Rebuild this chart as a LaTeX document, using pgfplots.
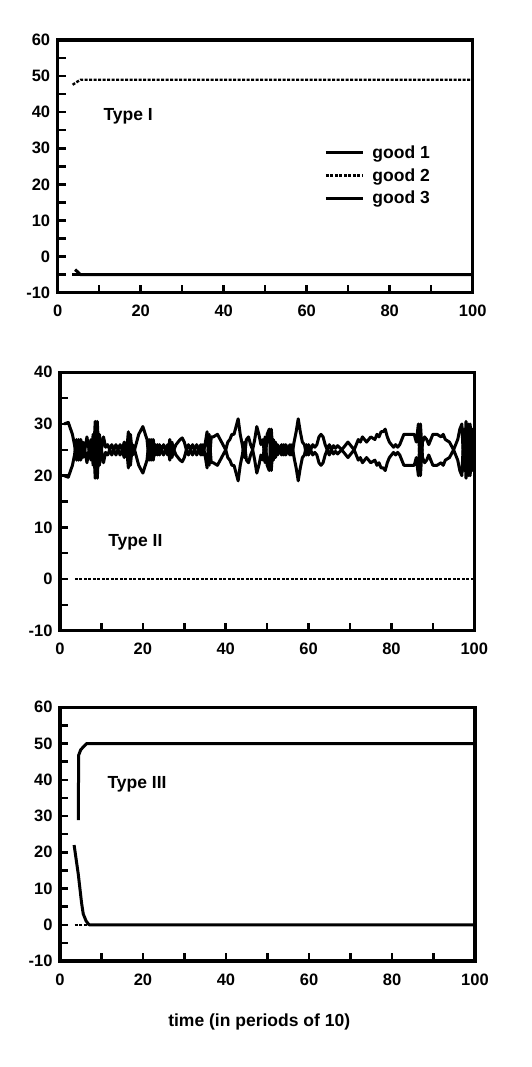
\documentclass[border=0pt]{standalone}
\usepackage{fontspec}
\setmainfont{Liberation Sans}
\usepackage{pgfplots}
\usepackage{pgfplotstable}
\pgfplotsset{compat=1.18}

\pgfplotstableread{
x g1 g3
1 30 20
2 30.3 19.7
3 28 22
3.5 26 24
4 23 27
4.5 27 23
5 23 27
5.5 26.5 23.5
6 25 25
6.5 27.5 22.5
7 25 25
7.5 27 23
8 22 28
8.5 30.5 19.5
9 19.5 30.5
9.5 28 22
10 25 25
10.5 27.5 22.5
11 25.5 24.5
11.5 26 24
12 25 25
12.5 26 24
13 25 25
13.5 26 24
14 25 25
14.5 26 24
15 25 25
15.5 26.5 23.5
16 24 26
16.5 28.5 21.5
17 22 28
17.5 26 24
18 25 25
19 28 22
20 29.5 20.5
21 27 23
21.5 23 27
22 27 23
22.5 23 27
23 26 24
23.5 24 26
24 26 24
24.5 25 25
25 26 24
25.5 25 25
26 26 24
26.5 23 27
27 26.5 23.5
27.5 25 25
28 26 24
29 27 23
29.5 27.3 22.7
30 26.5 23.5
30.5 25 25
31 26 24
31.5 25 25
32 26 24
32.5 25 25
33 26 24
33.5 25 25
34 26 24
34.5 24 26
35 26 24
35.5 28.5 21.5
36 22 28
36.5 27.5 22.5
37 27.5 22.5
38 28 22
39 26.5 23.5
40 25 25
40.5 26.5 23.5
41 27 23
41.5 28 22
42 28 22
42.5 29.5 20.5
43 31 19
43.5 28 22
44 26 24
44.5 23.5 26.5
45 27 23
45.5 27.5 22.5
46 26 24
46.5 25 25
47 27 23
47.5 29.5 20.5
48 28 22
48.5 26 24
49 27 23
49.5 22.5 27.5
50 28 22
50.5 29 21
51 21 29
51.5 27 23
52 23.5 26.5
52.5 26 24
53 25 25
53.5 26 24
54 24 26
54.5 26 24
55 25 25
55.5 26 24
56 24 26
56.5 26.5 23.5
57 28.5 21.5
57.5 31 19
58 28.5 21.5
58.5 26.5 23.5
59 26 24
59.5 24 26
60 26 24
60.5 25 25
61 26 24
61.5 25.5 24.5
62 26 24
62.5 27.5 22.5
63 28 22
63.5 27.5 22.5
64 26 24
64.5 25 25
65 26 24
65.5 25 25
66 25.8 24.2
66.5 25.3 24.7
67 25.8 24.2
68 25 25
69 26 24
69.5 26.5 23.5
70 26 24
70.5 25.5 24.5
71 25 25
71.5 26 24
72 27 23
72.5 26.5 23.5
73 27.5 22.5
73.5 27 23
74 26.5 23.5
74.5 27 23
75 27.5 22.5
76 27 23
76.5 28 22
77 27.5 22.5
77.5 28.5 21.5
78 28.5 21.5
78.5 29 21
79 27.5 22.5
79.5 26.5 23.5
80 26 24
80.5 25.5 24.5
81 26 24
81.5 25.5 24.5
82 26 24
82.5 27 23
83 28 22
84 28 22
85 28 22
85.5 28 22
86 26.5 23.5
86.5 30 20
87 20 30
87.5 26.5 23.5
88 27.5 22.5
88.5 27 23
89 26 24
89.5 27 23
90 28 22
91 28 22
92 27.5 22.5
92.5 28 22
93 27 23
94 26.5 23.5
95 25 25
96 27 23
96.5 29 21
97 30 20
97.5 21 29
98 30.5 19.5
98.5 20 30
99 30 20
99.5 21 29
100 28 22
}\typetwo

\pgfplotsset{
  panel/.style={
    scale only axis,
    xmin=0, xmax=100,
    xtick={0,20,40,60,80,100},
    xticklabels={0,20,40,60,80,100},
    minor xtick={10,30,50,70,90},
    xtick pos=bottom, ytick pos=left,
    tick align=inside,
    major tick length=8pt, minor tick length=8pt,
    every major tick/.append style={black, line width=2.5pt},
    every minor tick/.append style={black, line width=2.5pt},
    axis line style={line width=3.2pt},
    ticklabel style={font=\fontsize{16.5}{19}\selectfont\bfseries},
    yticklabel style={xshift=-4pt},
    xticklabel style={yshift=-9pt},
  },
  sl/.style={black, line width=3pt, no marks, line join=round},
  g2/.style={black, no marks, dash pattern=on 3pt off 1.5pt, line width=2.4pt},
}
\tikzset{typelab/.style={anchor=base west, font=\fontsize{17.5}{20}\selectfont\bfseries}}

\begin{document}
\begin{tikzpicture}
\path[use as bounding box] (0,0) rectangle (531pt,-1067pt);

% Panel 1
\begin{axis}[panel,
  at={(57.7pt,-40pt)}, anchor=north west,
  width=415pt, height=252.7pt,
  ymin=-10, ymax=60,
  ytick={-10,0,10,20,30,40,50,60},
  yticklabels={-10,0,10,20,30,40,50,60},
  minor ytick={-5,5,15,25,35,45,55},
  legend style={draw=none, fill=none, at={(axis description cs:0.635,0.598)}, anchor=north west,
    font=\fontsize{17.5}{20}\selectfont\bfseries, row sep=4.5pt},
  legend cell align=left,
  legend image code/.code={\draw[#1] (0pt,0pt) -- (37pt,0pt); \path (43pt,0pt);},
]
\addplot[sl] coordinates {(3.5,-5) (100,-5)};
\addlegendentry{good 1}
\addplot[g2] coordinates {(3.6,47.6) (4.8,48.5) (5.5,49) (100,49)};
\addlegendentry{good 2}
\addplot[sl] coordinates {(4.2,-3.6) (5.5,-5) (100,-5)};
\addlegendentry{good 3}
\node[typelab] at (axis cs:10.2,37.8) {Type I};
\end{axis}

% Panel 2
\begin{axis}[panel,
  at={(60pt,-372.3pt)}, anchor=north west,
  width=414.3pt, height=258.4pt,
  ymin=-10, ymax=40,
  ytick={-10,0,10,20,30,40},
  yticklabels={-10,0,10,20,30,40},
  minor ytick={-5,5,15,25,35},
]
\addplot[sl] table[x=x, y=g1] {\typetwo};
\addplot[g2] coordinates {(3.6,0) (100,0)};
\addplot[sl] table[x=x, y=g3] {\typetwo};
\node[typelab] at (axis cs:10.8,6.3) {Type II};
\end{axis}

% Panel 3
\begin{axis}[panel,
  at={(60pt,-707.3pt)}, anchor=north west,
  width=415pt, height=253.7pt,
  ymin=-10, ymax=60,
  ytick={-10,0,10,20,30,40,50,60},
  yticklabels={-10,0,10,20,30,40,50,60},
  minor ytick={-5,5,15,25,35,45,55},
  clip=false,
]
\addplot[sl] coordinates {(4.4,28.9) (4.5,46.8) (5.0,48.3) (6.4,50) (100,50)};
\addplot[g2] coordinates {(3.5,0) (100,0)};
\addplot[sl] coordinates {(3.4,22) (4.4,14) (5.2,6) (5.6,3) (6.3,1) (7,0) (100,0)};
\node[typelab] at (axis cs:10.6,37.6) {Type III};
\node[anchor=base, font=\fontsize{17.5}{20}\selectfont\bfseries] at ([yshift=-65.7pt]rel axis cs:0.48,0) {time (in periods of 10)};
\end{axis}
\end{tikzpicture}
\end{document}
